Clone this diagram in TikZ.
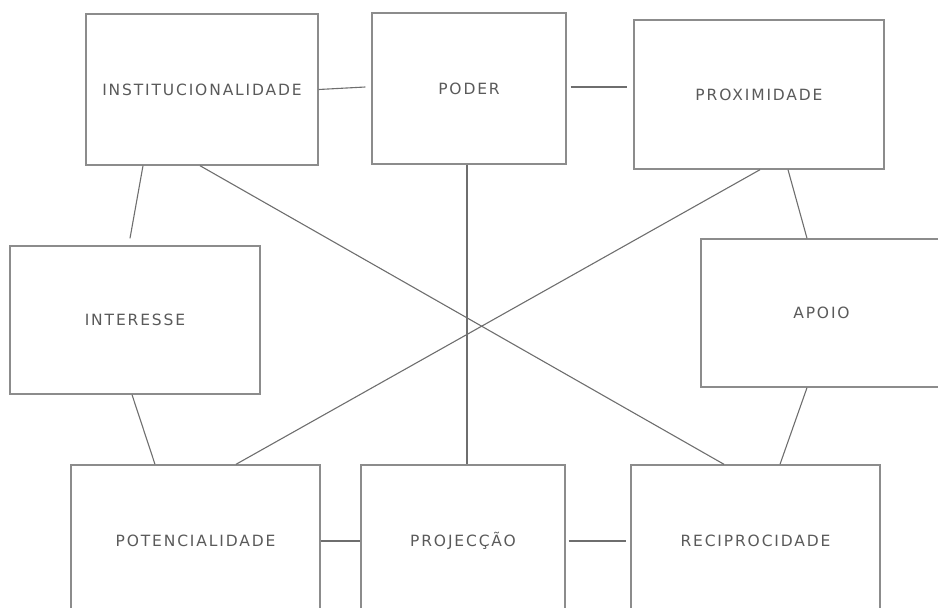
\documentclass[tikz,border=0pt]{standalone}
\usepackage{fontspec}
\setmainfont{DejaVu Sans}[LetterSpace=12]
\usepackage{xcolor}
\usepackage{tikz}
\usetikzlibrary{positioning}
\definecolor{boxgray}{HTML}{8C8C8C}
\definecolor{linegray}{HTML}{6E6E6E}
\definecolor{txtgray}{HTML}{5A5A5A}

\begin{document}
\begin{tikzpicture}[
  x=1pt, y=-1pt,
  box/.style={draw=boxgray, line width=1.4pt, fill=white, align=center,
              font=\fontsize{15.5}{17}\selectfont, text=txtgray, inner sep=0pt},
  conn/.style={draw=linegray, line width=1.1pt},
]
\useasboundingbox (0,0) rectangle (938,608);
\clip (0,0) rectangle (938,608);

\node[box, minimum width=232pt, minimum height=151pt] (inst) at (202,89.5) {INSTITUCIONALIDADE};
\node[box, minimum width=194pt, minimum height=151pt] (poder) at (469,88.5) {PODER};
\node[box, minimum width=250pt, minimum height=149pt] (prox) at (759,94.5) {PROXIMIDADE};
\node[box, minimum width=250pt, minimum height=148pt] (inter) at (135,320) {INTERESSE};
\node[box, minimum width=241pt, minimum height=148pt] (apoio) at (821.5,313) {APOIO};
\node[box, minimum width=249pt, minimum height=152pt] (pot) at (195.5,541) {POTENCIALIDADE};
\node[box, minimum width=204pt, minimum height=152pt] (proj) at (463,541) {PROJECÇÃO};
\node[box, minimum width=249pt, minimum height=152pt] (recip) at (755.5,541) {RECIPROCIDADE};

% ligacoes
\draw[conn] (inst.east) -- ([xshift=-6pt,yshift=1.5pt]poder.west);
\draw[conn] ([xshift=4pt,yshift=1.5pt]poder.east) -- ([xshift=-6pt,yshift=7.5pt]prox.west);
\draw[conn] ([xshift=-59pt]inst.south) -- ([xshift=-5pt,yshift=7pt]inter.north);
\draw[conn] ([xshift=29pt]prox.south) -- ([xshift=-14.5pt]apoio.north);
\draw[conn] ([xshift=-3pt]inter.south) -- ([xshift=-40.5pt]pot.north);
\draw[conn] ([xshift=-14.5pt]apoio.south) -- ([xshift=24.5pt]recip.north);
\draw[conn] (pot.east) -- (proj.west);
\draw[conn] ([xshift=3pt]proj.east) -- ([xshift=-4pt]recip.west);
\draw[conn] ([xshift=-2pt]poder.south) -- ([xshift=4pt]proj.north);
\draw[conn] ([xshift=-2pt]inst.south) -- ([xshift=-31.5pt]recip.north);
\draw[conn] ([xshift=1pt]prox.south) -- ([xshift=40.5pt]pot.north);
\end{tikzpicture}
\end{document}
